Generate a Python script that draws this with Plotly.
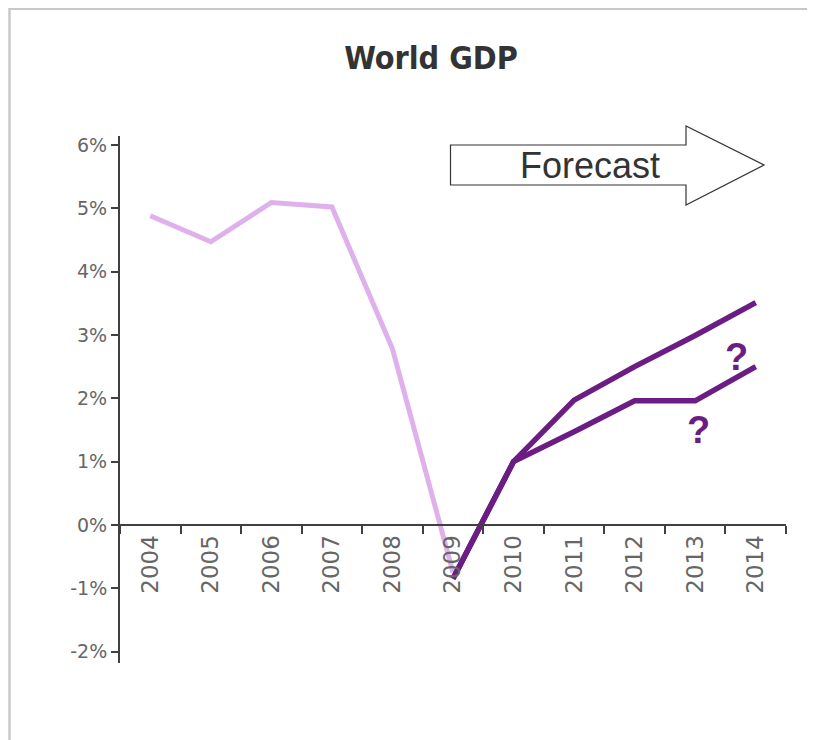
import plotly.graph_objects as go

years = ["2004", "2005", "2006", "2007", "2008", "2009", "2010", "2011", "2012", "2013", "2014"]
hist_years = ["2004", "2005", "2006", "2007", "2008", "2009"]
hist_gdp = [4.88, 4.47, 5.09, 5.02, 2.78, -0.75]
fc_years = ["2009", "2010", "2011", "2012", "2013", "2014"]
fc_high = [-0.85, 1.0, 1.97, 2.5, 2.99, 3.51]
fc_low = [-0.85, 1.0, 1.47, 1.96, 1.96, 2.5]
y_ticks = [-2, -1, 0, 1, 2, 3, 4, 5, 6]
y_labels = [f"{v}%" for v in y_ticks]

W, H = 815, 740
OFF = 8  # page body margin
L, T = 120 - OFF, 136 - OFF
R = W - (786 - OFF)
B = H - (663 - OFF)
YMIN, YMAX = -2.18, 6.14
pw, ph = W - L - R, H - T - B

def px(x):
    return (x - OFF - L) / pw

def py(y):
    return (H - B - (y - OFF)) / ph

LIGHT = "#dfb1ec"
DARK = "#6b1d84"

fig = go.Figure()
fig.add_trace(go.Scatter(x=hist_years, y=hist_gdp, mode="lines",
                         line=dict(color=LIGHT, width=5), hoverinfo="skip"))
fig.add_trace(go.Scatter(x=fc_years, y=fc_high, mode="lines",
                         line=dict(color=DARK, width=5.5), hoverinfo="skip"))
fig.add_trace(go.Scatter(x=fc_years, y=fc_low, mode="lines",
                         line=dict(color=DARK, width=5.5), hoverinfo="skip"))

zero_pos = (0 - YMIN) / (YMAX - YMIN)

fig.update_layout(
    width=W, height=H,
    margin=dict(l=L, r=R, t=T, b=B),
    paper_bgcolor="white", plot_bgcolor="white",
    showlegend=False,
    title=dict(text="<b>World GDP</b>", x=(431 - OFF) / W, xref="container", xanchor="center",
               y=1 - (58 - OFF) / H, yref="container", yanchor="middle",
               font=dict(family="Liberation Sans Narrow, DejaVu Sans Condensed, Arial Narrow, sans-serif",
                         size=32, color="#333333")),
    xaxis=dict(type="category", categoryorder="array", categoryarray=years,
               range=[-0.5, 10.5], anchor="free", position=zero_pos,
               showline=True, linecolor="#404040", linewidth=2,
               ticks="outside", tickson="boundaries", ticklen=8, tickwidth=1.5, tickcolor="#404040",
               tickangle=-90, showgrid=False, zeroline=False,
               tickfont=dict(family="DejaVu Sans", size=23, color="#666666")),
    yaxis=dict(range=[YMIN, YMAX], tickvals=y_ticks, ticktext=y_labels,
               showline=True, linecolor="#404040", linewidth=2,
               ticks="outside", ticklen=7, tickwidth=1.5, tickcolor="#404040",
               showgrid=False, zeroline=False,
               tickfont=dict(family="DejaVu Sans", size=19, color="#666666")),
)

# frame border (top and left)
fig.add_shape(type="line", xref="paper", yref="paper", x0=px(9), x1=px(W + 20), y0=py(9), y1=py(9),
              line=dict(color="#c8c8c8", width=2))
fig.add_shape(type="line", xref="paper", yref="paper", x0=px(9.5), x1=px(9.5), y0=py(8), y1=py(H + 20),
              line=dict(color="#c8c8c8", width=2.5))

# dashed forecast divider
fig.add_shape(type="line", xref="x", yref="y", x0="2009", x1="2009", y0=6.0, y1=-0.9,
              line=dict(color="#333333", width=1, dash="dash"))

# forecast arrow
bx0, hx, tip = 450.5, 686, 764
by0, by1, hy0, hy1, ty = 145, 185, 126, 205, 165
pts = [(bx0, by0), (hx, by0), (hx, hy0), (tip, ty), (hx, hy1), (hx, by1), (bx0, by1)]
path = "M " + " L ".join(f"{px(a):.5f},{py(b):.5f}" for a, b in pts) + " Z"
fig.add_shape(type="path", xref="paper", yref="paper", path=path,
              line=dict(color="#333333", width=1.2), fillcolor="white", layer="above")

fig.add_annotation(text="Forecast", xref="paper", yref="paper", x=px(590), y=py(166),
                   showarrow=False, xanchor="center", yanchor="middle",
                   font=dict(family="Liberation Sans, Arial, sans-serif", size=36, color="#333333"))

fig.add_annotation(text="<b>?</b>", xref="paper", yref="paper", x=px(736), y=py(357),
                   showarrow=False, xanchor="center", yanchor="middle",
                   font=dict(family="Liberation Sans, Arial, sans-serif", size=38, color=DARK))
fig.add_annotation(text="<b>?</b>", xref="paper", yref="paper", x=px(698), y=py(430),
                   showarrow=False, xanchor="center", yanchor="middle",
                   font=dict(family="Liberation Sans, Arial, sans-serif", size=38, color=DARK))

fig.write_html("out.html")
